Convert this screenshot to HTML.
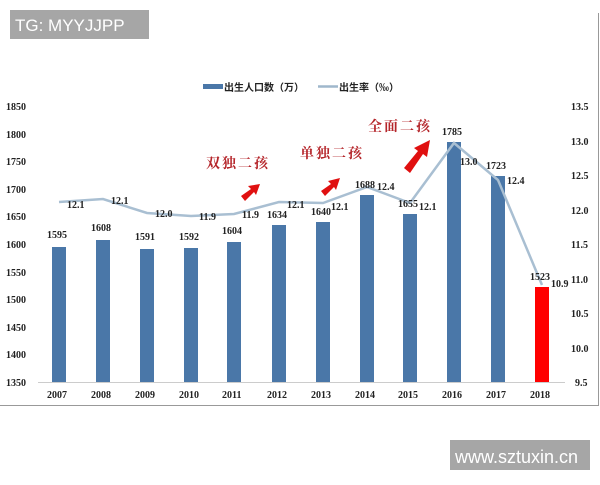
<!DOCTYPE html>
<html><head><meta charset="utf-8"><style>
body{margin:0;width:600px;height:480px;background:#fff;overflow:hidden}
svg text{font-family:"Liberation Serif","Noto Serif CJK SC",serif;font-weight:bold;fill:#222}
</style></head><body>
<svg width="600" height="480" xmlns="http://www.w3.org/2000/svg">
<rect x="0" y="0" width="600" height="480" fill="#fff"/>
<line x1="0" y1="405.5" x2="599" y2="405.5" stroke="#999" stroke-width="1"/>
<line x1="598.5" y1="13" x2="598.5" y2="406" stroke="#999" stroke-width="1"/>
<rect x="10" y="10" width="139" height="29" fill="#a6a6a6"/>
<text x="15" y="31" style="font-family:'Liberation Sans',sans-serif;font-weight:normal;font-size:17px;fill:#fff">TG: MYYJJPP</text>
<rect x="450" y="440" width="140" height="30" fill="#a6a6a6"/>
<text x="455" y="463" style="font-family:'Liberation Sans',sans-serif;font-weight:normal;font-size:18px;fill:#fff">www.sztuxin.cn</text>
<rect x="203" y="84" width="20" height="5" fill="#4a77a8"/>
<text x="224" y="91" font-size="10" style="font-family:'Noto Sans CJK SC',sans-serif">出生人口数（万）</text>
<line x1="318" y1="86.5" x2="338" y2="86.5" stroke="#9fb7cc" stroke-width="2.5"/>
<text x="339" y="91" font-size="10" style="font-family:'Noto Sans CJK SC',sans-serif">出生率（‰）</text>
<g font-size="10">
<text x="6" y="110">1850</text><text x="6" y="138">1800</text><text x="6" y="165">1750</text><text x="6" y="193">1700</text><text x="6" y="220">1650</text><text x="6" y="248">1600</text><text x="6" y="276">1550</text><text x="6" y="303">1500</text><text x="6" y="331">1450</text><text x="6" y="358">1400</text><text x="6" y="386">1350</text>
<text x="571" y="110">13.5</text><text x="571" y="145">13.0</text><text x="571" y="179">12.5</text><text x="571" y="214">12.0</text><text x="571" y="248">11.5</text><text x="571" y="283">11.0</text><text x="571" y="317">10.5</text><text x="571" y="352">10.0</text><text x="575" y="386">9.5</text>
</g>
<line x1="38" y1="382.5" x2="565" y2="382.5" stroke="#ccc"/>
<g fill="#4a77a8">
<rect x="52" y="247" width="14" height="135"/>
<rect x="96" y="240" width="14" height="142"/>
<rect x="140" y="249" width="14" height="133"/>
<rect x="184" y="248" width="14" height="134"/>
<rect x="227" y="242" width="14" height="140"/>
<rect x="272" y="225" width="14" height="157"/>
<rect x="316" y="222" width="14" height="160"/>
<rect x="360" y="195" width="14" height="187"/>
<rect x="403" y="214" width="14" height="168"/>
<rect x="447" y="142" width="14" height="240"/>
<rect x="491" y="176" width="14" height="206"/>
<rect x="535" y="287" width="14" height="95" fill="#f00"/>
</g>
<polyline fill="none" stroke="#a9bfd2" stroke-width="2.5" points="59,202 103,199 147,213 191,216 234,214 279,202 323,203 367,187 410,203 454,143 498,180 542,285"/>
<g font-size="10">
<text x="47" y="238">1595</text><text x="91" y="231">1608</text><text x="135" y="240">1591</text><text x="179" y="240">1592</text><text x="222" y="234">1604</text><text x="267" y="218">1634</text><text x="311" y="215">1640</text><text x="355" y="188">1688</text><text x="398" y="207">1655</text><text x="442" y="135">1785</text><text x="486" y="169">1723</text><text x="530" y="280">1523</text>
<text x="67" y="208">12.1</text><text x="111" y="204">12.1</text><text x="155" y="217">12.0</text><text x="199" y="220">11.9</text><text x="242" y="218">11.9</text><text x="287" y="208">12.1</text><text x="331" y="210">12.1</text><text x="377" y="190">12.4</text><text x="419" y="210">12.1</text><text x="460" y="165">13.0</text><text x="507" y="184">12.4</text><text x="551" y="287">10.9</text>
<text x="47" y="398">2007</text><text x="91" y="398">2008</text><text x="135" y="398">2009</text><text x="179" y="398">2010</text><text x="222" y="398">2011</text><text x="267" y="398">2012</text><text x="311" y="398">2013</text><text x="355" y="398">2014</text><text x="398" y="398">2015</text><text x="442" y="398">2016</text><text x="486" y="398">2017</text><text x="530" y="398">2018</text>
</g>
<g font-size="14">
<text x="206" y="168" style="fill:#b5262b;letter-spacing:2px">双独二孩</text>
<text x="300" y="158" style="fill:#b5262b;letter-spacing:2px">单独二孩</text>
<text x="368" y="131" style="fill:#b5262b;letter-spacing:2px">全面二孩</text>
</g>
<g fill="#e01010">
<polygon points="241,196 251,189 248,186 260,184 256,195 254,192 245,201"/>
<polygon points="321,191 331,184 328,181 340,178 336,190 334,187 325,196"/>
<polygon points="404,168 418,151 414,148 430,140 427,157 423,154 410,173"/>
</g>
</svg>
</body></html>
